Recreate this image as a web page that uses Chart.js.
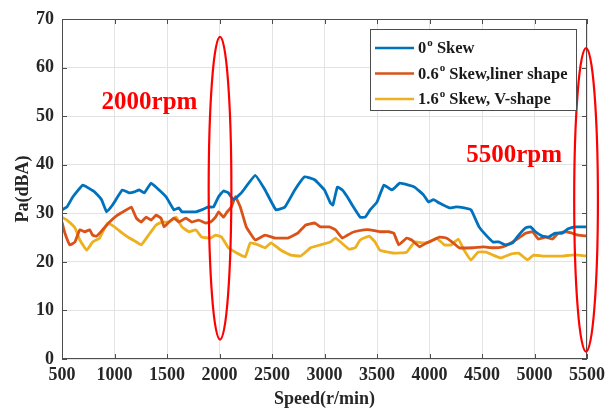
<!DOCTYPE html>
<html>
<head>
<meta charset="utf-8">
<script src="https://cdn.jsdelivr.net/npm/chart.js@4"></script>
<style>
  html, body { margin: 0; padding: 0; background: #fff; }
  #wrap { width: 611px; height: 410px; }
</style>
</head>
<body>
<div id="wrap"><canvas id="noiseChart" width="611" height="410"></canvas></div>
<script>
// speed (r/min) and sound pressure (dBA)
const blueSpeed = [500,547,604,698,783,811,877,925,981,1075,1141,1189,1236,1283,1349,1425,1491,1566,1613,1642,1708,1774,1830,1896,1943,1991,2038,2085,2132,2208,2340,2434,2538,2623,2717,2811,2906,3000,3057,3080,3123,3170,3217,3264,3340,3387,3434,3500,3566,3642,3717,3802,3858,3943,3991,4038,4094,4189,4255,4330,4396,4472,4538,4604,4660,4726,4792,4849,4915,4962,5009,5075,5132,5198,5264,5321,5387,5500];
const blueLevel = [30.7,31.3,33.4,35.8,34.8,34.4,32.8,30.3,31.7,34.8,34.2,34.4,34.8,34.2,36.2,34.8,33.4,30.7,31.1,30.3,30.3,30.3,30.7,31.3,31.3,33.4,34.6,34.2,32.8,34.2,37.8,34.8,30.7,31.3,34.8,37.5,36.9,34.8,32.1,31.7,35.4,34.8,33.4,31.7,29.2,29.2,30.7,32.3,35.8,34.8,36.2,35.8,35.4,33.8,32.3,32.8,32.1,31.1,31.3,31.1,30.7,27.2,25.5,24.1,24.1,23.5,23.9,25.5,27.0,27.2,26.2,25.3,25.1,25.9,25.9,26.8,27.2,27.2];

const orangeSpeed = [500,528,575,623,670,717,764,792,830,887,953,1028,1113,1160,1208,1255,1302,1349,1396,1443,1472,1519,1566,1613,1679,1736,1802,1868,1915,1962,1991,2038,2066,2113,2151,2198,2255,2340,2434,2528,2651,2745,2821,2906,2962,3047,3104,3170,3217,3283,3377,3434,3528,3613,3660,3708,3783,3830,3906,3972,4038,4094,4160,4226,4283,4415,4509,4604,4698,4774,4849,4915,4981,5038,5104,5170,5226,5292,5358,5415,5500];
const orangeLevel = [28.2,25.9,23.5,24.1,26.6,26.2,26.6,25.5,25.3,26.6,28.2,29.6,30.7,31.3,29.0,28.2,29.2,28.6,29.6,29.0,27.2,28.2,29.0,28.2,29.0,28.2,28.6,28.0,28.2,29.2,30.3,29.2,30.1,31.3,33.4,31.3,27.2,24.5,25.5,24.9,24.9,25.9,27.6,28.0,27.2,27.2,26.6,24.9,25.5,26.2,26.6,26.6,26.2,26.2,25.9,23.5,24.9,24.5,23.1,23.9,24.5,25.1,24.9,23.9,22.9,22.9,23.1,22.9,23.1,23.9,24.9,25.9,26.2,24.7,25.1,24.7,25.9,26.2,25.9,25.5,25.3];

const yellowSpeed = [500,547,623,670,736,792,858,934,1000,1075,1141,1208,1255,1311,1396,1453,1519,1585,1642,1708,1774,1830,1915,1962,2019,2085,2151,2245,2292,2368,2434,2491,2585,2679,2774,2868,2962,3057,3104,3236,3292,3340,3425,3481,3528,3660,3783,3858,3943,4000,4066,4141,4208,4274,4330,4396,4462,4538,4604,4679,4774,4849,4934,4991,5075,5170,5264,5358,5415,5500];
const yellowLevel = [29.2,28.6,27.0,24.5,22.4,24.1,24.9,28.0,27.2,25.9,24.9,24.1,23.5,25.1,27.6,28.2,28.2,29.2,27.2,26.2,26.6,25.1,24.9,25.5,25.1,22.9,22.0,21.0,23.9,23.5,22.9,23.9,22.4,21.4,21.2,22.9,23.5,24.1,24.9,22.6,22.9,24.5,25.3,24.1,22.4,21.8,22.0,24.1,23.9,24.1,24.9,23.5,23.5,24.7,22.4,20.4,22.0,22.0,21.4,20.8,21.6,21.8,20.4,21.4,21.2,21.2,21.2,21.4,21.4,21.2];

const seriesNames = ['0', '0.6', '1.6'];
const seriesTails = [' Skew', ' Skew,liner shape', ' Skew, V-shape'];
const seriesColors = ['#0072BD', '#D95319', '#EDB120'];

const xTicks = [500,1000,1500,2000,2500,3000,3500,4000,4500,5000,5500];
const yTicks = [0,10,20,30,40,50,60,70];

// highlighted speeds: ellipse centre, half width, vertical span (data units)
const markSpeed = [2005, 5491];
const markHalfWidth = [108, 113];
const markLow = [4, 1.5];
const markHigh = [66.3, 64];
const markLabel = ['2000rpm', '5500rpm'];
const labelAt = [[877, 52.9], [4349, 41.8]];

const serif = '"Liberation Serif", "Times New Roman", serif';

function pts(xs, ys) {
  return xs.map((x, i) => ({ x: x, y: ys[i] }));
}

const decorPlugin = {
  id: 'decor',
  afterDatasetsDraw(chart) {
    const ctx = chart.ctx;
    const xs = chart.scales.x, ys = chart.scales.y;
    const a = chart.chartArea;
    ctx.save();

    // box with inward ticks
    ctx.strokeStyle = '#4d4d4d';
    ctx.lineWidth = 1;
    ctx.strokeRect(a.left + 0.5, a.top + 0.5, a.right - a.left - 1, a.bottom - a.top - 1);
    ctx.beginPath();
    xTicks.forEach(t => {
      const px = Math.round(xs.getPixelForValue(t)) + 0.5;
      ctx.moveTo(px, a.bottom); ctx.lineTo(px, a.bottom - 5);
      ctx.moveTo(px, a.top); ctx.lineTo(px, a.top + 5);
    });
    yTicks.forEach(t => {
      const py = Math.round(ys.getPixelForValue(t)) + 0.5;
      ctx.moveTo(a.left, py); ctx.lineTo(a.left + 5, py);
      ctx.moveTo(a.right, py); ctx.lineTo(a.right - 5, py);
    });
    ctx.stroke();

    // red ellipses + labels
    ctx.strokeStyle = '#ff0000';
    ctx.lineWidth = 2.2;
    markSpeed.forEach((s, i) => {
      const cx = xs.getPixelForValue(s);
      const rx = xs.getPixelForValue(s + markHalfWidth[i]) - cx;
      const top = ys.getPixelForValue(markHigh[i]);
      const bot = ys.getPixelForValue(markLow[i]);
      ctx.beginPath();
      ctx.ellipse(cx, (top + bot) / 2, rx, (bot - top) / 2, 0, 0, Math.PI * 2);
      ctx.stroke();
    });
    ctx.fillStyle = '#ff0000';
    ctx.font = 'bold 25px ' + serif;
    ctx.textBaseline = 'middle';
    ctx.textAlign = 'left';
    markLabel.forEach((txt, i) => {
      ctx.fillText(txt, xs.getPixelForValue(labelAt[i][0]), ys.getPixelForValue(labelAt[i][1]));
    });

    // legend
    const lx = a.right - 217, ly = a.top + 10, lw = 206, lh = 81;
    ctx.fillStyle = '#fff';
    ctx.fillRect(lx, ly, lw, lh);
    ctx.strokeStyle = '#4d4d4d';
    ctx.lineWidth = 1;
    ctx.strokeRect(lx + 0.5, ly + 0.5, lw, lh);
    seriesNames.forEach((nm, i) => {
      const y = ly + 19 + i * 25.5;
      ctx.strokeStyle = seriesColors[i];
      ctx.lineWidth = 2.5;
      ctx.beginPath();
      ctx.moveTo(lx + 5, y); ctx.lineTo(lx + 44, y);
      ctx.stroke();
      ctx.fillStyle = '#1a1a1a';
      ctx.font = 'bold 16.5px ' + serif;
      ctx.textBaseline = 'middle';
      let tx = lx + 48;
      ctx.fillText(nm, tx, y + 1);
      tx += ctx.measureText(nm).width + 1;
      ctx.font = 'bold 11px ' + serif;
      ctx.fillText('o', tx, y - 5);
      tx += ctx.measureText('o').width;
      ctx.font = 'bold 16.5px ' + serif;
      ctx.fillText(seriesTails[i], tx, y + 1);
    });
    ctx.restore();
  }
};

const ctx = document.getElementById('noiseChart').getContext('2d');
new Chart(ctx, {
  type: 'line',
  data: {
    datasets: [
      { data: pts(blueSpeed, blueLevel), borderColor: seriesColors[0] },
      { data: pts(orangeSpeed, orangeLevel), borderColor: seriesColors[1] },
      { data: pts(yellowSpeed, yellowLevel), borderColor: seriesColors[2] }
    ]
  },
  options: {
    responsive: false,
    animation: false,
    layout: { padding: { top: 19, right: 19, left: 0, bottom: 0 } },
    elements: {
      line: { borderWidth: 2.8, tension: 0.1, fill: false },
      point: { radius: 0 }
    },
    plugins: { legend: { display: false }, tooltip: { enabled: false } },
    scales: {
      x: {
        type: 'linear', min: 500, max: 5500,
        afterBuildTicks: s => { s.ticks = xTicks.map(v => ({ value: v })); },
        afterFit: s => { s.height = 51; },
        grid: { color: '#e3e3e3', drawTicks: false },
        border: { display: false },
        ticks: { color: '#262626', padding: 6, maxRotation: 0, callback: v => String(v), font: { family: serif, size: 18, weight: 'bold' } },
        title: { display: true, text: 'Speed(r/min)', color: '#262626', padding: { top: 0, bottom: 0 }, font: { family: serif, size: 18, weight: 'bold' } }
      },
      y: {
        min: 0, max: 70,
        afterBuildTicks: s => { s.ticks = yTicks.map(v => ({ value: v })); },
        afterFit: s => { s.width = 62; },
        grid: { color: '#e3e3e3', drawTicks: false },
        border: { display: false },
        ticks: { color: '#262626', padding: 8, font: { family: serif, size: 18, weight: 'bold' } },
        title: { display: true, text: 'Pa(dBA)', color: '#262626', padding: { top: 13, bottom: 0 }, font: { family: serif, size: 18, weight: 'bold' } }
      }
    }
  },
  plugins: [decorPlugin]
});
</script>
</body>
</html>
